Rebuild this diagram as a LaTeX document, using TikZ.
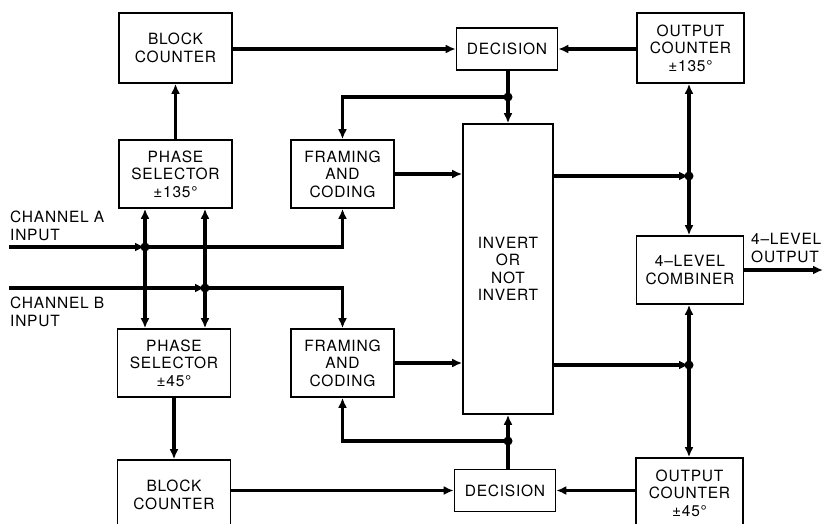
\documentclass[tikz,border=0pt]{standalone}
\usepackage{fontspec}
\setmainfont{TeX Gyre Heros}[LetterSpace=5]
\usepackage{tikz}
\usetikzlibrary{arrows.meta,positioning,calc}

\begin{document}
\begin{tikzpicture}[
  x=1pt, y=-1pt,
  every node/.style={font=\fontsize{15.5}{17.5}\selectfont},
  box/.style={draw, line width=1.6pt, inner sep=2pt, align=center},
  blk/.style={box, minimum width=113pt, minimum height=70pt},
  sel/.style={box, minimum width=113pt, minimum height=68pt},
  frm/.style={box, minimum width=103pt, minimum height=68pt},
  dec/.style={box, minimum width=101pt, minimum height=42pt},
  cnt/.style={box, minimum width=107pt, minimum height=70pt},
  arr/.style={-{Latex[length=10pt,width=9pt]}, line width=3.2pt},
  wire/.style={line width=3.2pt},
  lbl/.style={align=left, inner sep=0pt},
  dot/.style={circle, fill, inner sep=0pt, minimum size=9pt},
]
  \useasboundingbox (0,0) rectangle (823,523);

  % left column
  \node[blk] (bc1) at (175.5,48)  {BLOCK\\COUNTER};
  \node[sel] (ps1) at (175.5,174) {PHASE\\SELECTOR\\±135°};
  \node[sel] (ps2) at (174,363)   {PHASE\\SELECTOR\\±45°};
  \node[blk] (bc2) at (174,495)   {BLOCK\\COUNTER};

  % middle
  \node[frm] (fc1) at (342.5,174) {FRAMING\\AND\\CODING};
  \node[frm] (fc2) at (342.5,363) {FRAMING\\AND\\CODING};
  \node[dec] (dec1) at (507,49)   {DECISION};
  \node[dec] (dec2) at (505,490.5) {DECISION};
  \node[box, minimum width=90pt, minimum height=290pt] (inv) at (508,269)
       {INVERT\\OR\\NOT\\INVERT};

  % right column
  \node[cnt] (oc1) at (690.5,48)  {OUTPUT\\COUNTER\\±135°};
  \node[cnt, minimum height=68pt] (comb) at (690,270) {4--LEVEL\\COMBINER};
  \node[cnt] (oc2) at (689.5,493) {OUTPUT\\COUNTER\\±45°};

  % labels
  \node[lbl, anchor=north west] (la) at (10,211) {CHANNEL A\\INPUT};
  \node[lbl, anchor=north west] (lb) at (10,297) {CHANNEL B\\INPUT};
  \node[lbl, anchor=north west] (lo) at (751,233) {4--LEVEL\\OUTPUT};

  % junctions and free ends
  \coordinate (ina) at (9,247);
  \coordinate (inb) at (9,288);
  \coordinate (ja)  at (145,247);
  \coordinate (jb)  at (205,288);
  \coordinate (jd1) at (508,97);
  \coordinate (jd2) at (508,441);
  \coordinate (jr1) at (689,176);
  \coordinate (jr2) at (689,365);
  \coordinate (out) at (823,270);

  % inputs
  \draw[arr] (ina) -- (ja);
  \draw[arr] (inb) -- (jb);
  \draw[arr] (ja) -| (fc1.south);
  \draw[arr] (jb) -| (fc2.north);
  \draw[arr] (ja) -- (ja |- ps1.south);
  \draw[arr] (ja) -- (ja |- ps2.north);
  \draw[arr] (jb) -- (jb |- ps1.south);
  \draw[arr] (jb) -- (jb |- ps2.north);
  \draw[arr] (ps1) -- (bc1);
  \draw[arr] (ps2) -- (bc2);

  % decisions
  \draw[arr] (bc1.east |- dec1) -- (dec1.west);
  \draw[arr] (oc1.west |- dec1) -- (dec1.east);
  \draw[arr] (bc2.east |- dec2) -- (dec2.west);
  \draw[arr] (oc2.west |- dec2) -- (dec2.east);
  \draw[wire] (dec1.south -| jd1) -- (jd1);
  \draw[wire] (dec2.north -| jd2) -- (jd2);
  \draw[arr] (jd1) -- (jd1 |- inv.north);
  \draw[arr] (jd2) -- (jd2 |- inv.south);
  \draw[arr] (jd1) -| (fc1.north);
  \draw[arr] (jd2) -| (fc2.south);

  % framing into invert
  \draw[arr] (fc1.east) -- (fc1.east -| inv.west);
  \draw[arr] (fc2.east) -- (fc2.east -| inv.west);

  % outputs
  \draw[arr] (inv.east |- jr1) -- (jr1);
  \draw[arr] (inv.east |- jr2) -- (jr2);
  \draw[arr] (jr1) -- (jr1 |- oc1.south);
  \draw[arr] (jr1) -- (jr1 |- comb.north);
  \draw[arr] (jr2) -- (jr2 |- comb.south);
  \draw[arr] (jr2) -- (jr2 |- oc2.north);
  \draw[arr] (comb.east |- out) -- (out);

  \foreach \j in {ja,jb,jd1,jd2,jr1,jr2}
    \node[dot] at (\j) {};
\end{tikzpicture}
\end{document}
